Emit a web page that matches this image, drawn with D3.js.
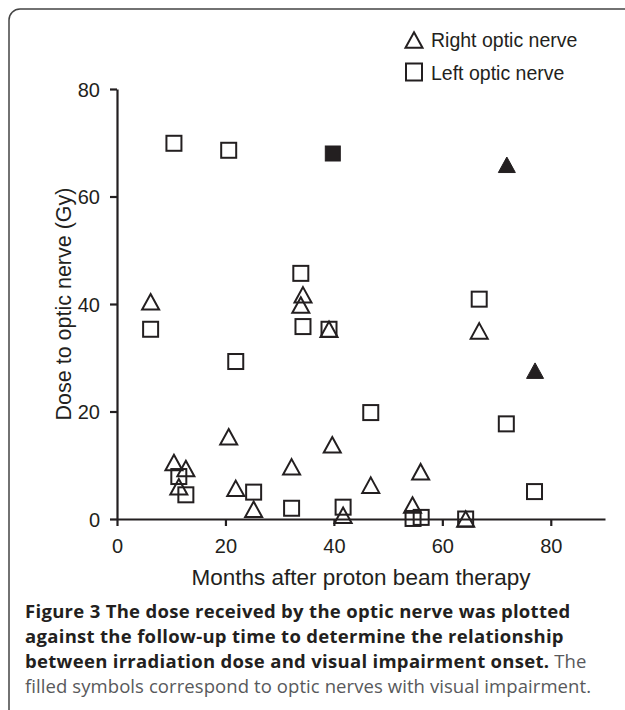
<!DOCTYPE html>
<html>
<head>
<meta charset="utf-8">
<script src="https://cdn.jsdelivr.net/npm/d3@7"></script>
<style>
  body { margin: 0; background: #fff; }
  svg { display: block; }
</style>
</head>
<body>
<div class="chart"></div>
<script>
// right optic nerve (triangles), open = no impairment
const rightMonths = [6.2, 34.3, 33.9, 39.1, 20.6, 39.7, 10.5, 12.7, 11.4, 32.2, 21.9, 25.2, 41.7, 66.8, 46.8, 56.0, 54.5, 64.3];
const rightDose   = [40.4, 41.7, 39.8, 35.3, 15.3, 13.8, 10.5, 9.4, 6.0, 9.7, 5.7, 1.8, 0.7, 35.0, 6.3, 8.8, 2.6, 0.0];
const rightImpMonths = [71.9, 77.1];
const rightImpDose   = [65.9, 27.6];

// left optic nerve (squares)
const leftMonths = [10.5, 20.6, 33.9, 6.2, 34.3, 39.1, 21.9, 11.4, 12.7, 25.2, 32.2, 41.7, 66.8, 46.8, 71.8, 77.0, 54.6, 56.1, 64.3];
const leftDose   = [69.9, 68.6, 45.7, 35.3, 35.8, 35.3, 29.3, 7.9, 4.5, 5.0, 2.0, 2.2, 40.9, 19.8, 17.7, 5.1, 0.1, 0.3, 0.0];
const leftImpMonths = [39.8];
const leftImpDose   = [68.0];

const xTicks = [0, 20, 40, 60, 80];
const yTicks = [0, 20, 40, 60, 80];

const ink = '#231f20';
const W = 625, H = 710;

const svg = d3.select('.chart').append('svg')
    .attr('width', W)
    .attr('height', H);

// frame
svg.append('rect')
    .attr('x', 9).attr('y', 9)
    .attr('width', 640).attr('height', 720)
    .attr('rx', 11).attr('ry', 11)
    .attr('fill', 'none')
    .attr('stroke', '#444')
    .attr('stroke-width', 1.5);

const xScale = d3.scaleLinear().domain([0, 90]).range([117, 605]);
const yScale = d3.scaleLinear().domain([0, 80]).range([519, 89]);

const xAxis = d3.axisBottom(xScale).tickValues(xTicks).tickSize(7).tickPadding(13).tickSizeOuter(0);
const yAxis = d3.axisLeft(yScale).tickValues(yTicks).tickSize(7).tickPadding(10).tickSizeOuter(0);

const gx = svg.append('g')
    .attr('transform', `translate(0,${yScale(0)})`)
    .call(xAxis);
const gy = svg.append('g')
    .attr('transform', `translate(${xScale(0)},0)`)
    .call(yAxis);

[gx, gy].forEach(g => {
    g.select('.domain').attr('stroke', ink).attr('stroke-width', 2.2);
    g.selectAll('.tick line').attr('stroke', ink).attr('stroke-width', 2.2);
    g.selectAll('.tick text')
        .attr('fill', ink)
        .attr('font-family', 'Liberation Sans, Arial, sans-serif')
        .attr('font-size', 20);
});
gy.selectAll('.tick text').attr('dy', '0.35em');

// axis titles
svg.append('text')
    .attr('x', 361)
    .attr('y', 585)
    .attr('text-anchor', 'middle')
    .attr('font-family', 'Liberation Sans, Arial, sans-serif')
    .attr('font-size', 22.5)
    .attr('fill', ink)
    .text('Months after proton beam therapy');

svg.append('text')
    .attr('transform', `translate(71,${(yScale(0) + yScale(80)) / 2}) rotate(-90)`)
    .attr('text-anchor', 'middle')
    .attr('font-family', 'Liberation Sans, Arial, sans-serif')
    .attr('font-size', 21.5)
    .attr('fill', ink)
    .text('Dose to optic nerve (Gy)');

// marker shapes
const triW = 17, triH = 15.5, sq = 15;
function triPath(cx, cy) {
    const p = d3.path();
    p.moveTo(cx, cy - triH / 2);
    p.lineTo(cx + triW / 2, cy + triH / 2);
    p.lineTo(cx - triW / 2, cy + triH / 2);
    p.closePath();
    return p.toString();
}

const rightOpen = rightMonths.map((m, i) => ({m, d: rightDose[i]}));
const rightImp = rightImpMonths.map((m, i) => ({m, d: rightImpDose[i]}));
const leftOpen = leftMonths.map((m, i) => ({m, d: leftDose[i]}));
const leftImp = leftImpMonths.map((m, i) => ({m, d: leftImpDose[i]}));

const marks = svg.append('g');

marks.selectAll('.sq-open')
    .data(leftOpen)
    .enter()
    .append('rect')
    .attr('class', 'sq-open')
    .attr('x', d => xScale(d.m) - sq / 2)
    .attr('y', d => yScale(d.d) - sq / 2)
    .attr('width', sq).attr('height', sq)
    .attr('fill', 'none')
    .attr('stroke', ink)
    .attr('stroke-width', 2);

marks.selectAll('.tri-open')
    .data(rightOpen)
    .enter()
    .append('path')
    .attr('class', 'tri-open')
    .attr('d', d => triPath(xScale(d.m), yScale(d.d)))
    .attr('fill', 'none')
    .attr('stroke', ink)
    .attr('stroke-width', 2)
    .attr('stroke-linejoin', 'miter');

marks.selectAll('.sq-fill')
    .data(leftImp)
    .enter()
    .append('rect')
    .attr('class', 'sq-fill')
    .attr('x', d => xScale(d.m) - sq / 2)
    .attr('y', d => yScale(d.d) - sq / 2)
    .attr('width', sq).attr('height', sq)
    .attr('fill', ink)
    .attr('stroke', ink)
    .attr('stroke-width', 1);

marks.selectAll('.tri-fill')
    .data(rightImp)
    .enter()
    .append('path')
    .attr('class', 'tri-fill')
    .attr('d', d => triPath(xScale(d.m), yScale(d.d)))
    .attr('fill', ink)
    .attr('stroke', ink)
    .attr('stroke-width', 1);

// legend
const legend = svg.append('g');
legend.append('path')
    .attr('d', triPath(414, 40))
    .attr('fill', 'none')
    .attr('stroke', ink)
    .attr('stroke-width', 2);
legend.append('rect')
    .attr('x', 414 - sq / 2 - 0.5).attr('y', 72 - sq / 2 - 1)
    .attr('width', sq + 1).attr('height', sq + 2)
    .attr('fill', 'none')
    .attr('stroke', ink)
    .attr('stroke-width', 2);
legend.selectAll('text')
    .data(['Right optic nerve', 'Left optic nerve'])
    .enter()
    .append('text')
    .attr('x', 431)
    .attr('y', (d, i) => 47 + i * 33)
    .attr('font-family', 'Liberation Sans, Arial, sans-serif')
    .attr('font-size', 19.5)
    .attr('fill', ink)
    .text(d => d);

// caption
const capFont = 'Open Sans, Noto Sans, sans-serif';
const capLines = [
    [{t: 'Figure 3 The dose received by the optic nerve was plotted', b: true}],
    [{t: 'against the follow-up time to determine the relationship', b: true}],
    [{t: 'between irradiation dose and visual impairment onset.', b: true}, {t: ' The', b: false}],
    [{t: 'filled symbols correspond to optic nerves with visual impairment.', b: false}]
];
capLines.forEach((line, i) => {
    const t = svg.append('text')
        .attr('x', 25)
        .attr('y', 618 + i * 25)
        .attr('font-family', capFont)
        .attr('font-size', 18.5);
    line.forEach(seg => {
        t.append('tspan')
            .attr('font-weight', seg.b ? 700 : 400)
            .attr('letter-spacing', seg.b ? 0.3 : 0.08)
            .attr('fill', seg.b ? ink : '#58595b')
            .text(seg.t);
    });
});
</script>
</body>
</html>
